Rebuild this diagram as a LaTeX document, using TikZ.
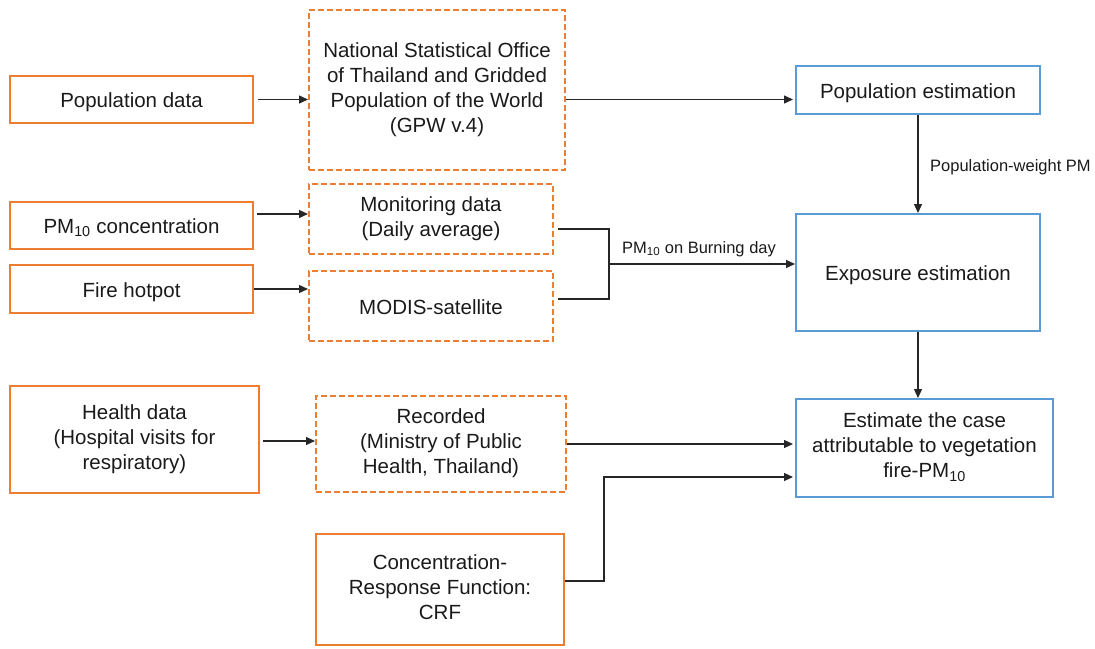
\documentclass[tikz,border=0pt]{standalone}
\usepackage{fontspec}
\setmainfont{Liberation Sans}
\usetikzlibrary{arrows.meta}
\definecolor{myorange}{HTML}{ED7D31}
\definecolor{myblue}{HTML}{5B9BD5}
\definecolor{ink}{HTML}{1A1A1A}
\newcommand{\boxstrut}{\rule[-5pt]{0pt}{26pt}}
\begin{document}
\begin{tikzpicture}[x=1pt,y=-1pt,
  box/.style={draw=myorange, line width=2pt, inner sep=0pt, align=center, text=ink,
    font=\fontsize{20.5}{25}\selectfont,
    execute at begin node=\boxstrut, execute at end node=\boxstrut},
  dbox/.style={box, dash pattern=on 6pt off 3pt},
  bbox/.style={box, draw=myblue},
  wire/.style={draw=black!85, line width=1.3pt},
  conn/.style={wire, -{Triangle[length=9pt,width=8pt]}},
  lbl/.style={font=\fontsize{16.5}{20}\selectfont, text=ink, inner sep=0pt}]
\useasboundingbox (0,0) rectangle (1095,648);

% left column
\node[box, minimum width=243pt, minimum height=47pt] (pop) at (131.5,99.5) {Population data};
\node[box, minimum width=243pt, minimum height=47pt] (pm) at (131.5,225.5) {PM\textsubscript{10} concentration};
\node[box, minimum width=243pt, minimum height=48pt] (fire) at (131.5,289) {Fire hotpot};
\node[box, minimum width=249pt, minimum height=107pt] (health) at (134.5,439.5) {Health data\\(Hospital visits for\\respiratory)};

% middle column
\node[dbox, minimum width=256pt, minimum height=160pt] (nso) at (437,90) {National Statistical Office\\of Thailand and Gridded\\Population of the World\\(GPW v.4)};
\node[dbox, minimum width=244pt, minimum height=70pt] (mon) at (431,219) {Monitoring data\\(Daily average)};
\node[dbox, minimum width=244pt, minimum height=70pt] (modis) at (431,306) {MODIS-satellite};
\node[dbox, minimum width=250pt, minimum height=96pt] (rec) at (441,444) {Recorded\\(Ministry of Public\\Health, Thailand)};
\node[box, minimum width=248pt, minimum height=111pt] (crf) at (440,589.5) {Concentration-\\Response Function:\\CRF};

% right column
\node[bbox, minimum width=244pt, minimum height=48pt] (popest) at (918,90) {Population estimation};
\node[bbox, minimum width=244pt, minimum height=117pt] (expo) at (918,272.5) {Exposure estimation};
\node[bbox, minimum width=257pt, minimum height=98pt] (est) at (924.5,448) {Estimate the case\\attributable to vegetation\\fire-PM\textsubscript{10}};

% connectors
\draw[conn] ([xshift=4pt]pop.east) -- (nso.west |- pop.east);
\draw[conn, shorten >=2pt] (nso.east |- pop.east) -- (popest.west |- pop.east);
\draw[conn] (popest.south) -- (expo.north);
\node[lbl, anchor=base west] (lw) at (930,171) {Population-weight PM};

\draw[conn] ([xshift=3pt]pm.east |- 0,214) -- (mon.west |- 0,214);
\draw[conn] (fire.east) -- (modis.west |- fire.east);

\coordinate (j) at (609,264);
\draw[wire] ([xshift=4pt,yshift=-10pt]mon.east) -| (j);
\draw[wire] ([xshift=4pt,yshift=7pt]modis.east) -| (j);
\draw[conn] (j) -- (expo.west |- j);
\node[lbl, anchor=base west] (lb) at (622,253) {PM\textsubscript{10} on Burning day};

\draw[conn] (expo.south) -- (expo.south |- est.north);

\draw[conn] ([xshift=3pt]health.east |- 0,441) -- (rec.west |- 0,441);
\draw[conn, shorten >=2pt] (rec.east) -- (est.west |- rec.east);
\coordinate (k) at (604,477);
\draw[conn, shorten >=2pt] ([yshift=8.5pt]crf.east) -| (k) -- (est.west |- k);
\end{tikzpicture}
\end{document}
